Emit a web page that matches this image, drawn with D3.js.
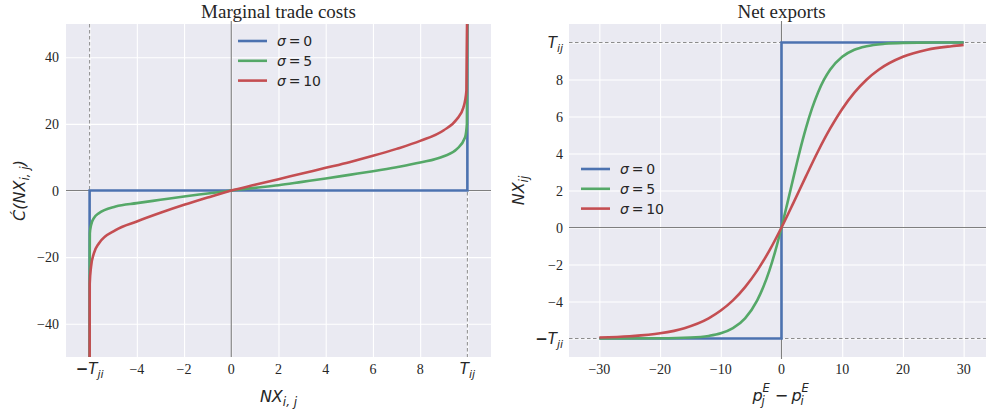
<!DOCTYPE html>
<html>
<head>
<meta charset="utf-8">
<script src="https://cdn.jsdelivr.net/npm/d3@7"></script>
<style>
  html, body { margin: 0; padding: 0; background: #ffffff; }
  svg { display: block; }
</style>
</head>
<body>
<svg id="fig" width="986" height="412"></svg>
<script>
// ---- data -------------------------------------------------------------
const T_ij = 10;
const T_ji = 6;
const sigmaLabels = ["σ = 0", "σ = 5", "σ = 10"];
const seriesColors = ["#4C72B0", "#55A868", "#C44E52"];

// Left panel: marginal trade cost C'(NX) against NX
const mcNX_s0 = [-6, -6.0001, 10, 10.0001];
const mcC_s0  = [-60, 0, 0, 60];
const mcNX_s5 = [-6.0, -5.995, -5.99, -5.94, -5.82, -5.61, -4.9, -4, -3, -2, -1, 0, 1, 2, 3, 4, 5, 6, 7, 8, 9, 9.55, 9.9, 9.98, 10.0];
const mcC_s5  = [-60, -20, -12.9, -10.4, -8.3, -6.8, -4.8, -3.8, -2.8, -1.8, -0.9, 0, 0.8, 1.6, 2.6, 3.6, 4.7, 5.8, 7.0, 8.4, 10.3, 12.4, 15.9, 20, 60];
const mcNX_s10 = [-6.0, -5.995, -5.94, -5.82, -5.61, -4.9, -4, -3, -2, -1, 0, 1, 2, 3, 4, 5, 6, 7, 8, 9, 9.55, 9.83, 9.96, 10.0];
const mcC_s10  = [-60, -28, -22.9, -18.9, -15.9, -11.9, -9.3, -6.7, -4.3, -2.1, 0, 1.7, 3.4, 5.1, 6.8, 8.5, 10.4, 12.5, 14.9, 18.1, 21.4, 24.9, 30, 60];

// Right panel: net exports NX against the price gap p_j^E - p_i^E
const nxP_s0 = [-30, 0, 0.0001, 30];
const nxV_s0 = [-6, -6, 10, 10];
const nxP_s5 = [-30, -20, -15, -12, -10, -8, -6, -4, -3, -2, -1, 0, 1, 2, 3, 4, 5, 6, 7, 8, 10, 12, 14, 17, 20, 25, 30];
const nxV_s5 = [-6.0, -5.99, -5.95, -5.86, -5.72, -5.44, -4.91, -3.94, -3.22, -2.33, -1.25, 0, 1.36, 2.75, 4.11, 5.34, 6.41, 7.29, 7.99, 8.53, 9.23, 9.61, 9.8, 9.93, 9.98, 10.0, 10.0];
const nxP_s10 = [-30, -25, -20, -16, -12, -10, -8, -6, -4, -2, 0, 2, 4, 6, 8, 10, 12, 14, 16, 20, 24, 28, 30];
const nxV_s10 = [-5.95, -5.88, -5.72, -5.44, -4.91, -4.49, -3.94, -3.22, -2.33, -1.25, 0, 1.36, 2.75, 4.11, 5.34, 6.41, 7.29, 7.99, 8.53, 9.23, 9.61, 9.8, 9.87];

// Tick values and labels
const leftXTicks = [-6, -4, -2, 0, 2, 4, 6, 8, 10];
const leftXLabels = ["−T_ji", "−4", "−2", "0", "2", "4", "6", "8", "T_ij"];
const leftYTicks = [-40, -20, 0, 20, 40];
const leftYLabels = ["−40", "−20", "0", "20", "40"];
const rightXTicks = [-30, -20, -10, 0, 10, 20, 30];
const rightXLabels = ["−30", "−20", "−10", "0", "10", "20", "30"];
const rightYTicks = [-6, -4, -2, 0, 2, 4, 6, 8, 10];
const rightYLabels = ["−T_ji", "−4", "−2", "0", "2", "4", "6", "8", "T_ij"];

// ---- drawing ----------------------------------------------------------
const svg = d3.select("#fig");
const BG = "#EAEAF2";
const TEXT = "#262626";
const SERIF = "'Liberation Serif', 'DejaVu Serif', serif";
const SANS = "'DejaVu Sans', sans-serif";

function zip(xs, ys) { return xs.map((x, i) => [x, ys[i]]); }

function makePanel(id, box, xDom, yDom) {
  const x = d3.scaleLinear().domain(xDom).range([box.x0, box.x1]);
  const y = d3.scaleLinear().domain(yDom).range([box.y1, box.y0]);
  const g = svg.append("g").attr("id", id);
  g.append("clipPath").attr("id", id + "-clip")
    .append("rect").attr("x", box.x0).attr("y", box.y0)
    .attr("width", box.x1 - box.x0).attr("height", box.y1 - box.y0);
  g.append("rect").attr("x", box.x0).attr("y", box.y0)
    .attr("width", box.x1 - box.x0).attr("height", box.y1 - box.y0)
    .attr("fill", BG);
  return { x, y, g, box, clip: "url(#" + id + "-clip)" };
}

function grid(p, xt, yt) {
  const gx = p.g.append("g").attr("transform", `translate(0,${p.box.y1})`)
    .call(d3.axisBottom(p.x).tickValues(xt).tickSize(-(p.box.y1 - p.box.y0)).tickFormat(""));
  const gy = p.g.append("g").attr("transform", `translate(${p.box.x0},0)`)
    .call(d3.axisLeft(p.y).tickValues(yt).tickSize(-(p.box.x1 - p.box.x0)).tickFormat(""));
  [gx, gy].forEach(a => {
    a.select(".domain").remove();
    a.selectAll("line").attr("stroke", "#ffffff").attr("stroke-width", 1.1);
  });
}

// tick label: plain numbers in serif, T labels as italic with subscript
function writeLabel(sel, label, size) {
  const m = label.match(/^(−?)T_(\w+)$/);
  if (!m) {
    sel.style("font-family", SERIF).style("font-size", size + "px").text(label);
    return;
  }
  sel.style("font-family", SANS).style("font-size", "15px");
  if (m[1]) sel.append("tspan").style("font-weight", "bold").text("−");
  sel.append("tspan").style("font-style", "italic").text("T");
  sel.append("tspan").style("font-style", "italic").style("font-size", "11px")
    .attr("dy", 4).text(m[2]);
}

function xLabels(p, ticks, labels, yPos) {
  ticks.forEach((t, i) => {
    const tx = p.g.append("text").attr("x", p.x(t)).attr("y", yPos)
      .attr("text-anchor", "middle").attr("fill", TEXT);
    writeLabel(tx, labels[i], 14);
  });
}
function yLabels(p, ticks, labels, xPos) {
  ticks.forEach((t, i) => {
    const tx = p.g.append("text").attr("x", xPos).attr("y", p.y(t) + 5)
      .attr("text-anchor", "end").attr("fill", TEXT);
    writeLabel(tx, labels[i], 14);
  });
}

function refLine(p, x1, y1, x2, y2, dashed) {
  p.g.append("line")
    .attr("x1", x1).attr("y1", y1).attr("x2", x2).attr("y2", y2)
    .attr("stroke", dashed ? "#8c8c8c" : "#7f7f7f")
    .attr("stroke-width", dashed ? 1 : 1.1)
    .attr("stroke-dasharray", dashed ? "3.5,2.5" : null);
}

function curve(p, pts, color) {
  const line = d3.line().x(d => p.x(d[0])).y(d => p.y(d[1])).curve(d3.curveMonotoneX);
  p.g.append("path").datum(pts).attr("d", line)
    .attr("fill", "none").attr("stroke", color).attr("stroke-width", 2.6)
    .attr("stroke-linejoin", "round").attr("clip-path", p.clip);
}
function stepLine(p, pts, color) {
  const line = d3.line().x(d => p.x(d[0])).y(d => p.y(d[1]));
  p.g.append("path").datum(pts).attr("d", line)
    .attr("fill", "none").attr("stroke", color).attr("stroke-width", 2.6)
    .attr("stroke-linejoin", "miter").attr("clip-path", p.clip);
}

function legend(p, x0, y0) {
  sigmaLabels.forEach((lab, i) => {
    const yy = y0 + i * 19.8;
    p.g.append("line").attr("x1", x0).attr("x2", x0 + 29).attr("y1", yy).attr("y2", yy)
      .attr("stroke", seriesColors[i]).attr("stroke-width", 2.6);
    const t = p.g.append("text").attr("x", x0 + 39).attr("y", yy + 5)
      .attr("fill", TEXT).style("font-family", SANS).style("font-size", "14px");
    t.append("tspan").style("font-style", "italic").text("σ");
    t.append("tspan").text(lab.slice(1).replace(/ /g, "\u2009"));
  });
}

function title(p, txt) {
  p.g.append("text").attr("x", (p.box.x0 + p.box.x1) / 2).attr("y", 18)
    .attr("text-anchor", "middle").attr("fill", TEXT)
    .style("font-family", SERIF).style("font-size", "19px").text(txt);
}

// small italic text piece used for math-style axis labels
function piece(g, x, y, txt, size, italic, anchor) {
  return g.append("text").attr("x", x).attr("y", y).attr("fill", TEXT)
    .attr("text-anchor", anchor || "start")
    .style("font-family", SANS).style("font-size", size + "px")
    .style("font-style", italic ? "italic" : "normal").text(txt);
}

// ---- left panel: marginal trade costs ----
const L = makePanel("left", { x0: 66, x1: 491, y0: 24, y1: 357 }, [-7, 11], [-50, 50]);
grid(L, leftXTicks, leftYTicks);
refLine(L, L.x(-T_ji), L.box.y0, L.x(-T_ji), L.box.y1, true);
refLine(L, L.x(T_ij), L.box.y0, L.x(T_ij), L.box.y1, true);
refLine(L, L.box.x0, L.y(0), L.box.x1, L.y(0), false);
refLine(L, L.x(0), L.box.y0 - 3, L.x(0), L.box.y1, false);
stepLine(L, zip(mcNX_s0, mcC_s0), seriesColors[0]);
curve(L, zip(mcNX_s5, mcC_s5), seriesColors[1]);
curve(L, zip(mcNX_s10, mcC_s10), seriesColors[2]);
xLabels(L, leftXTicks, leftXLabels, 374);
yLabels(L, leftYTicks, leftYLabels, 59);
legend(L, 238, 41);
title(L, "Marginal trade costs");

// axis labels
{
  const t = L.g.append("text").attr("x", (L.box.x0 + L.box.x1) / 2).attr("y", 402)
    .attr("text-anchor", "middle").attr("fill", TEXT)
    .style("font-family", SANS).style("font-size", "16px").style("font-style", "italic");
  t.append("tspan").text("NX");
  t.append("tspan").attr("dy", 4).style("font-size", "12px").text("i, j");
}
{
  const cy = (L.box.y0 + L.box.y1) / 2;
  const t = L.g.append("text").attr("transform", `translate(25,${cy}) rotate(-90)`)
    .attr("text-anchor", "middle").attr("fill", TEXT)
    .style("font-family", SANS).style("font-size", "16px").style("font-style", "italic");
  t.append("tspan").text("Ć(NX");
  t.append("tspan").attr("dy", 4).style("font-size", "12px").text("i, j");
  t.append("tspan").attr("dy", -4).text(")");
}

// ---- right panel: net exports ----
const R = makePanel("right", { x0: 569, x1: 994, y0: 24, y1: 357 }, [-35, 35], [-7, 11]);
grid(R, rightXTicks, rightYTicks);
refLine(R, R.box.x0, R.y(T_ij), R.box.x1, R.y(T_ij), true);
refLine(R, R.box.x0, R.y(-T_ji), R.box.x1, R.y(-T_ji), true);
refLine(R, R.box.x0, R.y(0), R.box.x1, R.y(0), false);
refLine(R, R.x(0), R.box.y0 - 3, R.x(0), R.box.y1 + 2, false);
stepLine(R, zip(nxP_s0, nxV_s0), seriesColors[0]);
curve(R, zip(nxP_s5, nxV_s5), seriesColors[1]);
curve(R, zip(nxP_s10, nxV_s10), seriesColors[2]);
xLabels(R, rightXTicks, rightXLabels, 374);
yLabels(R, rightYTicks, rightYLabels, 563);
legend(R, 581, 169);
title(R, "Net exports");

// x label p_j^E − p_i^E, built from separately placed pieces
{
  const base = 401, cx = R.x(0);
  const g = R.g.append("g");
  piece(g, cx - 29, base, "p", 16, true);
  piece(g, cx - 20, base + 4, "j", 11.5, true);
  piece(g, cx - 19, base - 9, "E", 11.5, true);
  piece(g, cx, base, "−", 16, false, "middle");
  piece(g, cx + 10, base, "p", 16, true);
  piece(g, cx + 19, base + 4, "i", 11.5, true);
  piece(g, cx + 20, base - 9, "E", 11.5, true);
}
{
  const cy = (R.box.y0 + R.box.y1) / 2;
  const t = R.g.append("text").attr("transform", `translate(524,${cy}) rotate(-90)`)
    .attr("text-anchor", "middle").attr("fill", TEXT)
    .style("font-family", SANS).style("font-size", "16px").style("font-style", "italic");
  t.append("tspan").text("NX");
  t.append("tspan").attr("dy", 4).style("font-size", "12px").text("ij");
}
</script>
</body>
</html>
